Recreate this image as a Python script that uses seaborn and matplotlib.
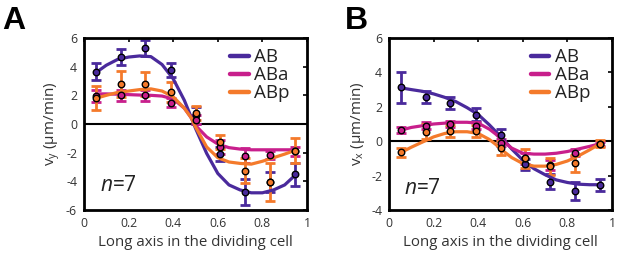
import numpy as np
import pandas as pd
import matplotlib
matplotlib.use("Agg")
import matplotlib.pyplot as plt
import seaborn as sns

# ---------------- data ----------------
series = ["AB", "ABa", "ABp"]
colors = {"AB": "#4a2a9c", "ABa": "#c81f8c", "ABp": "#f47a2b"}

bin_x = [0.055, 0.165, 0.275, 0.39, 0.5, 0.61, 0.72, 0.835, 0.945]

# Panel A (v_y)
A_AB = [3.65, 4.65, 5.3, 3.75, 0.6, -2.1, -4.75, -4.05, -3.5]
A_AB_err = [0.6, 0.55, 0.55, 0.5, 0.6, 0.5, 0.9, 0.7, 0.8]
A_ABa = [1.95, 2.0, 2.0, 1.5, 0.3, -1.6, -2.2, -2.15, -1.9]
A_ABa_err = [0.4, 0.4, 0.4, 0.3, 0.3, 0.5, 0.5, 0.3, 0.3]
A_ABp = [1.8, 2.8, 2.8, 2.25, 0.75, -1.25, -3.25, -4.05, -1.85]
A_ABp_err = [0.85, 0.9, 0.85, 0.7, 0.5, 0.5, 0.9, 1.3, 0.85]

# Panel B (v_x)
B_AB = [3.15, 2.55, 2.2, 1.55, 0.35, -1.35, -2.35, -2.9, -2.52]
B_AB_err = [0.9, 0.35, 0.35, 0.4, 0.35, 0.3, 0.45, 0.5, 0.35]
B_ABa = [0.65, 0.9, 1.0, 0.9, -0.1, -1.0, -1.4, -0.68, -0.15]
B_ABa_err = [0.2, 0.2, 0.2, 0.2, 0.2, 0.3, 0.3, 0.2, 0.1]
B_ABp = [-0.65, 0.55, 0.6, 0.6, -0.4, -1.0, -1.45, -1.28, -0.15]
B_ABp_err = [0.25, 0.45, 0.35, 0.35, 0.4, 0.55, 0.5, 0.5, 0.2]

# smooth fitted curves
curve_x = [0.055, 0.1, 0.15, 0.2, 0.25, 0.3, 0.35, 0.4, 0.45, 0.48, 0.5,
           0.55, 0.6, 0.65, 0.7, 0.75, 0.8, 0.85, 0.9, 0.945]
A_AB_fit = [3.6, 4.1, 4.5, 4.67, 4.75, 4.7, 4.15, 3.15, 1.65, 0.5, -0.3,
            -2.05, -3.45, -4.25, -4.6, -4.8, -4.8, -4.6, -4.25, -3.6]
A_ABa_fit = [2.1, 2.1, 2.08, 2.05, 2.02, 2.0, 1.95, 1.75, 1.1, 0.45, -0.1,
             -0.9, -1.4, -1.65, -1.75, -1.8, -1.8, -1.8, -1.8, -1.8]
A_ABp_fit = [1.8, 2.0, 2.2, 2.3, 2.4, 2.45, 2.3, 1.9, 1.1, 0.45, -0.2,
             -1.6, -2.35, -2.65, -2.75, -2.8, -2.6, -2.35, -2.1, -1.85]
B_AB_fit = [3.1, 3.0, 2.9, 2.75, 2.55, 2.3, 1.95, 1.55, 0.95, 0.55, 0.3,
            -0.45, -1.1, -1.6, -1.95, -2.25, -2.4, -2.5, -2.53, -2.53]
B_ABa_fit = [0.65, 0.8, 0.9, 1.0, 1.05, 1.1, 1.1, 1.05, 0.7, 0.4, 0.15,
             -0.4, -0.7, -0.75, -0.75, -0.7, -0.6, -0.45, -0.3, -0.15]
B_ABp_fit = [-0.65, -0.35, -0.05, 0.25, 0.45, 0.55, 0.55, 0.45, 0.1, -0.2, -0.45,
             -0.95, -1.3, -1.45, -1.45, -1.35, -1.15, -0.85, -0.5, -0.15]

xticks = [0, 0.2, 0.4, 0.6, 0.8, 1]
xticklabels = ["0", "0.2", "0.4", "0.6", "0.8", "1"]
A_yticks = [-6, -4, -2, 0, 2, 4, 6]
B_yticks = [-4, -2, 0, 2, 4, 6]

# ---------------- style ----------------
sns.set_theme(style="white")
plt.rcParams["font.family"] = ["Open Sans", "DejaVu Sans"]
plt.rcParams["mathtext.fontset"] = "custom"
plt.rcParams["mathtext.rm"] = "Open Sans"
plt.rcParams["mathtext.it"] = "Open Sans:italic"

fig = plt.figure(figsize=(6.17, 2.57), dpi=100)
axA = fig.add_axes([84 / 617, 1 - 210 / 257, 223 / 617, 172 / 257])
axB = fig.add_axes([389 / 617, 1 - 210 / 257, 223 / 617, 172 / 257])


def draw(ax, pts, errs, fits, yticks, ylabel, ylim, ntxt_xy, leg_anchor):
    # error bars
    for s in series:
        ax.errorbar(bin_x, pts[s], yerr=errs[s], fmt="none", ecolor=colors[s],
                    elinewidth=2.0, capsize=3.4, capthick=2.0, zorder=2)
    # fitted curves
    dfc = pd.concat([pd.DataFrame({"x": curve_x, "y": fits[s], "series": s})
                     for s in series], ignore_index=True)
    sns.lineplot(data=dfc, x="x", y="y", hue="series", palette=colors,
                 hue_order=series, linewidth=2.3, ax=ax, zorder=3,
                 estimator=None, sort=False)
    # markers
    for s in series:
        dfp = pd.DataFrame({"x": bin_x, "y": pts[s]})
        sns.scatterplot(data=dfp, x="x", y="y", color=colors[s], s=22,
                        edgecolor="black", linewidth=1.0, ax=ax, zorder=4,
                        legend=False)
    ax.axhline(0, color="black", lw=1.5, zorder=1)

    ax.set_xlim(0, 1)
    ax.set_ylim(*ylim)
    ax.set_xticks(xticks)
    ax.set_xticklabels(xticklabels)
    ax.set_yticks(yticks)
    ax.set_yticklabels([str(t) for t in yticks])
    ax.tick_params(direction="in", length=3, width=1.2, colors="black",
                   labelcolor="#333333", labelsize=8.8, top=True, right=True,
                   pad=5)
    for sp in ax.spines.values():
        sp.set_linewidth(2.0)
        sp.set_color("black")
    ax.set_xlabel("Long axis in the dividing cell", fontsize=10.8,
                  color="#333333", labelpad=4)
    ax.set_ylabel(ylabel, fontsize=11, color="#333333", labelpad=3)
    ax.text(ntxt_xy[0], ntxt_xy[1], r"$n$=7", fontsize=15, color="#222222",
            transform=ax.transData, ha="left", va="center")
    leg = ax.legend(loc="upper left", frameon=False, fontsize=13.5,
                    handlelength=1.0, handletextpad=0.3, labelspacing=0.0,
                    borderaxespad=0.0, borderpad=0.0,
                    bbox_to_anchor=leg_anchor)
    for h in leg.get_lines():
        h.set_linewidth(3.2)
    for t in leg.get_texts():
        t.set_color("#222222")


draw(axA,
     {"AB": A_AB, "ABa": A_ABa, "ABp": A_ABp},
     {"AB": A_AB_err, "ABa": A_ABa_err, "ABp": A_ABp_err},
     {"AB": A_AB_fit, "ABa": A_ABa_fit, "ABp": A_ABp_fit},
     A_yticks, r"$\mathregular{v_y}$ (μm/min)", (-6, 6), (0.07, -4.3),
     (0.655, 0.94))
draw(axB,
     {"AB": B_AB, "ABa": B_ABa, "ABp": B_ABp},
     {"AB": B_AB_err, "ABa": B_ABa_err, "ABp": B_ABp_err},
     {"AB": B_AB_fit, "ABa": B_ABa_fit, "ABp": B_ABp_fit},
     B_yticks, r"$\mathregular{v_x}$ (μm/min)", (-4, 6), (0.067, -2.75),
     (0.635, 0.94))

fig.text(2 / 617, 1 - 21 / 257, "A", fontsize=23, fontweight="bold",
         va="center", ha="left", color="black", family=["Liberation Sans"])
fig.text(345 / 617, 1 - 21 / 257, "B", fontsize=23, fontweight="bold",
         va="center", ha="left", color="black", family=["Liberation Sans"])

fig.savefig("out.png", dpi=100)
